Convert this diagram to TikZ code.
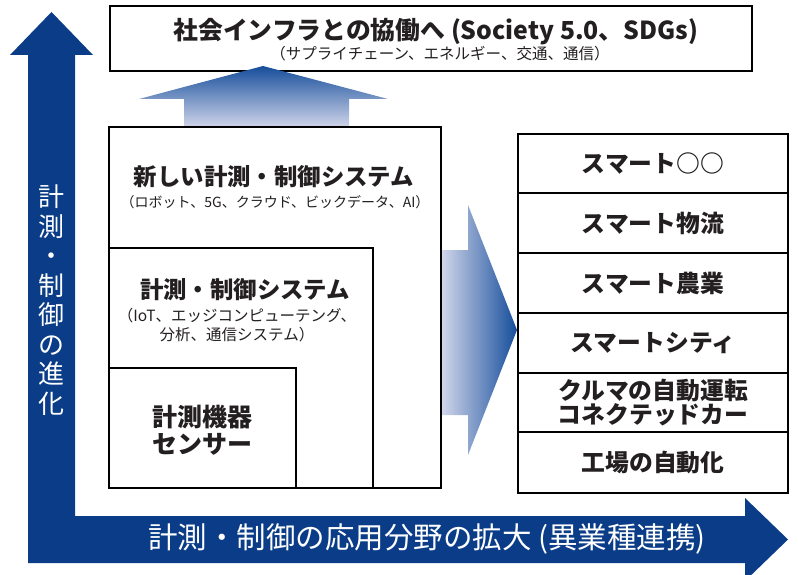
\documentclass[tikz,border=0pt]{standalone}
\usepackage{fontspec}
\setmainfont{Noto Sans CJK JP}
\definecolor{navy}{RGB}{10,60,135}
\definecolor{gdark}{RGB}{22,78,155}
\definecolor{glight}{RGB}{208,213,234}
\definecolor{ink}{RGB}{35,31,32}
\begin{document}
\begin{tikzpicture}[x=1pt,y=-1pt,
  box/.style={draw=black, line width=1.3pt, fill=white, inner sep=0pt},
  title/.style={text=ink, font=\bfseries\fontsize{23.4}{26}\selectfont, align=center, inner sep=0pt},
  sub/.style={text=ink, font=\fontsize{14}{18.5}\selectfont, align=center, inner sep=0pt},
  rtext/.style={text=ink, font=\bfseries\fontsize{23.8}{24}\selectfont, align=center, inner sep=0pt},
  wtext/.style={text=white, font=\fontsize{26}{29.5}\selectfont, align=center, inner sep=0pt}]
\useasboundingbox (0,0) rectangle (798,575);
\clip (0,0) rectangle (798,575);
% main L arrow
\fill[navy] (28,563) -- (28,55) -- (10,55) -- (51.5,12) -- (93,55) -- (75,55) -- (75,516)
  -- (745,516) -- (745,498) -- (788,539.5) -- (745,581) -- (745,563) -- cycle;
\node[wtext] (vlabel) at (51.5,300) {計\\測\\・\\制\\御\\の\\進\\化};
\node[wtext, font=\fontsize{29.5}{30}\selectfont] (hlabel) at (427,539) {計測・制御の応用分野の拡大 (異業種連携)};
% top box
\node[box, minimum width=642, minimum height=65] (topbox) at (431,38.5) {};
\node[title, font=\bfseries\fontsize{24.8}{26}\selectfont] (toptitle) at (436,32) {社会インフラとの協働へ (Society 5.0、SDGs)};
\node[sub, font=\fontsize{15.5}{18}\selectfont] (topsub) at (440,54) {（サプライチェーン、エネルギー、交通、通信）};
% up gradient arrow
\shade[top color=gdark, bottom color=glight] (184,127) -- (184,99) -- (139,99) -- (263,66)
  -- (388,99) -- (349,99) -- (349,127) -- cycle;
% right gradient arrow
\shade[left color=glight, right color=gdark] (442,250) -- (468,250) -- (468,205) -- (517,330)
  -- (468,455) -- (468,415) -- (442,415) -- cycle;
% nested boxes
\node[box, minimum width=332, minimum height=361] (newsys) at (275,307.5) {};
\node[box, minimum width=264, minimum height=240] (sys) at (241,368) {};
\node[box, minimum width=187, minimum height=120] (sensor) at (202.5,428) {};
\node[title] (newsysT) at (274,177) {新しい計測・制御システム};
\node[sub] (newsysS) at (275,202) {（ロボット、5G、クラウド、ビックデータ、AI）};
\node[title] (sysT) at (245,290) {計測・制御システム};
\node[sub, font=\fontsize{15.5}{18.5}\selectfont] (sysS) at (237,325) {（IoT、エッジコンピューテング、\\分析、通信システム）};
\node[title, font=\bfseries\fontsize{25}{26.5}\selectfont] (sensorT) at (202,430) {計測機器\\センサー};
% right column
\node[box, minimum width=270, minimum height=59] (r1) at (653,163.5) {};
\node[box, minimum width=270, minimum height=60] (r2) at (653,223) {};
\node[box, minimum width=270, minimum height=60] (r3) at (653,283) {};
\node[box, minimum width=270, minimum height=60] (r4) at (653,343) {};
\node[box, minimum width=270, minimum height=59] (r5) at (653,402.5) {};
\node[box, minimum width=270, minimum height=61] (r6) at (653,462.5) {};
\node[rtext] at (r1) {スマート○○};
\node[rtext] at (r2) {スマート物流};
\node[rtext] at (r3) {スマート農業};
\node[rtext] at (r4) {スマートシティ};
\node[rtext] at (r5) {クルマの自動運転\\コネクテッドカー};
\node[rtext] at (r6) {工場の自動化};
\end{tikzpicture}
\end{document}
